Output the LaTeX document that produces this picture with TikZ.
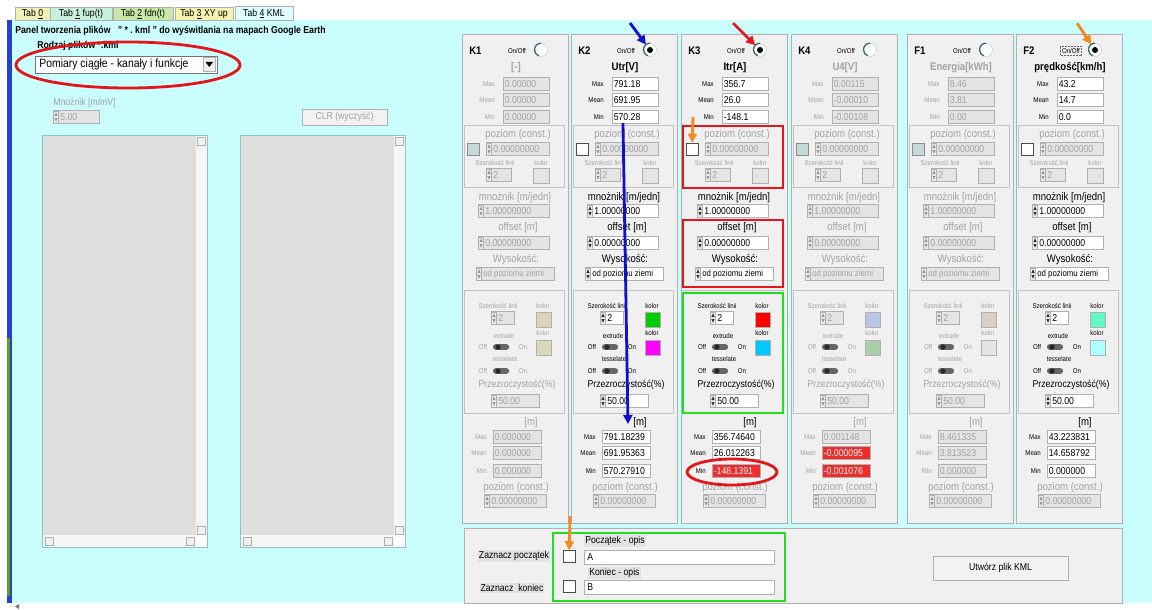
\documentclass[tikz,border=0pt]{standalone}
\usepackage{fontspec}
\setmainfont[FakeStretch=0.87]{Liberation Sans}
\usetikzlibrary{arrows.meta}

\definecolor{cbg}{HTML}{CAFDFD}
\definecolor{cpanel}{HTML}{F0F0F0}
\definecolor{cedge}{HTML}{B0B0B0}
\definecolor{cframe}{HTML}{C4C4C4}
\definecolor{cfieldoff}{HTML}{E4E4E4}
\definecolor{cgreytxt}{HTML}{A2A2A2}
\definecolor{ccheckoff}{HTML}{C4D8D8}
\definecolor{cradio}{HTML}{3C6A6A}
\definecolor{cspin}{HTML}{ECECEC}
\definecolor{calarm}{HTML}{EE2C2C}
\definecolor{cplate}{HTML}{E2E2E2}
\definecolor{cbutton}{HTML}{F2F2F2}
\definecolor{clist}{HTML}{DEDEDE}
\definecolor{clistedge}{HTML}{8CC4C4}
\definecolor{cscroll}{HTML}{F6F6F6}
\definecolor{cstripe}{HTML}{2244CC}
\definecolor{cstripegreen}{HTML}{5E9A2E}
\definecolor{ctab0}{HTML}{F2EEB8}
\definecolor{ctab1}{HTML}{C6F0DC}
\definecolor{ctab2}{HTML}{C8E8A6}
\definecolor{ctab3}{HTML}{F8F2B0}
\definecolor{ctab4}{HTML}{DCFEFE}
\definecolor{hred}{HTML}{E3161C}
\definecolor{hgreen}{HTML}{22DD22}
\definecolor{hblue}{HTML}{1010CC}
\definecolor{horange}{HTML}{F7881E}
% line / extrude colours per channel
\definecolor{swK1a}{HTML}{D6D4B6}
\definecolor{swK1b}{HTML}{DAD9BC}
\definecolor{swK2a}{HTML}{00CC00}
\definecolor{swK2b}{HTML}{FF00FF}
\definecolor{swK3a}{HTML}{FF0000}
\definecolor{swK3b}{HTML}{00C8FF}
\definecolor{swK4a}{HTML}{B6C6E4}
\definecolor{swK4b}{HTML}{AACDAA}
\definecolor{swF1a}{HTML}{D9D1C2}
\definecolor{swF1b}{HTML}{E4E4E4}
\definecolor{swF2a}{HTML}{62F8C4}
\definecolor{swF2b}{HTML}{AEFFFF}

\newcommand\ftiny{\fontsize{7}{8}\selectfont}
\newcommand\fmid{\fontsize{9}{10}\selectfont}
\newcommand\fsmall{\fontsize{10}{11}\selectfont}
\newcommand\fnorm{\fontsize{10}{11}\selectfont}
\newcommand\fbig{\fontsize{11}{12}\selectfont}
\newcommand\fcombo{\fontsize{12}{13}\selectfont}

\tikzset{
  every picture/.style={line width=0.6pt},
  colpanel/.style={fill=cpanel, draw=cedge},
  groupframe/.style={draw=cframe},
  head/.style={font=\fbig\bfseries, anchor=west, inner sep=0pt},
  minor/.style={font=\ftiny, inner sep=0pt},
  txt on/.style={text=black},
  txt off/.style={text=cgreytxt},
  lbl on/.style={font=\fbig, inner sep=0pt, text=black},
  lbl off/.style={font=\fbig, inner sep=0pt, text=cgreytxt},
  field on/.style={fill=white, draw=cedge},
  field off/.style={fill=cfieldoff, draw=cedge},
  field alarm/.style={fill=calarm, draw=cedge},
  fieldtxt on/.style={font=\fnorm, inner sep=0pt, text=black},
  fieldtxt off/.style={font=\fnorm, inner sep=0pt, text=cgreytxt},
  fieldtxt alarm/.style={font=\fnorm, inner sep=0pt, text=white},
  radio/.style={circle, fill=white, draw=cradio!30, minimum size=13pt, inner sep=0pt},
  radiodot on/.style={fill=black},
  radiodot off/.style={},
  chk on/.style={fill=white, draw=black!70, minimum size=12pt, inner sep=0pt},
  chk off/.style={fill=ccheckoff, draw=black!45, minimum size=12pt, inner sep=0pt},
  swatch/.style={draw=cedge},
  tab/.style={draw=cedge, minimum height=13pt, inner sep=0pt, font=\fsmall},
  button/.style={draw=cedge, fill=cbutton, font=\fsmall, inner sep=0pt},
  plate/.style={fill=cplate, font=\fnorm, inner sep=1pt},
  hilite/.style={draw=#1, line width=2.8pt},
  hilite arrow/.style={draw=#1, line width=2.8pt, -{Triangle[length=9pt, width=9pt]}},
  spin on/.style={fill=black!80},
  spin off/.style={fill=black!40},
  pics/updown/.style={code={
    \draw[fill=cspin, draw=cedge] (0,-6) rectangle (5,6);
    \fill[spin #1] (0.8,-1) -- (4.2,-1) -- (2.5,-4.6) -- cycle;
    \fill[spin #1] (0.8,1) -- (4.2,1) -- (2.5,4.6) -- cycle;}},
  pics/toggle/.style={code={
    \fill[black!60, rounded corners=2.5pt] (0,-2.8) rectangle (16,2.8);
    \fill[black!85] (5,0) circle (2.6);}},
}

% plain value field: left x, width, mid y, state, text
\newcommand{\valbox}[5]{%
  \draw[field #4] (#1,#3-6.5) rectangle ++(#2,13);
  \node[fieldtxt #4, anchor=west] at (#1+1.5,#3) {#5};}

% field with up/down arrows: left x, width, mid y, state, text
\newcommand{\spinbox}[5]{%
  \draw[field #4] (#1,#3-6.5) rectangle ++(#2,13);
  \pic at (#1+0.5,#3) {updown=#4};
  \node[fieldtxt #4, anchor=west] at (#1+7,#3) {#5};}

% one channel: x, id, unit, state, max, mean, min, line colour, extrude colour
\newcommand{\kmlcolumn}[9]{%
\begin{scope}[shift={(#1,0)}]
  \draw[colpanel] (-1,34) rectangle (105,523);
  \node[head] (#2-id) at (6,51) {#2};
  \node[minor] (#2-onoff) at (54,51) {On/Off};
  \node[radio] (#2-radio) at (78,50) {};
  \draw[cradio, line width=1.3pt] (#2-radio.north) arc[start angle=90, end angle=250, radius=6.5pt];
  \path[radiodot #4] (#2-radio.center) circle (3);
  \node[head, anchor=center, txt #4] (#2-unit) at (53,68) {#3};
  \node[minor, anchor=east, txt #4] at (32,84) {Max};
  \valbox{40}{46}{84}{#4}{#5}
  \node[minor, anchor=east, txt #4] at (32,100) {Mean};
  \valbox{40}{46}{100}{#4}{#6}
  \node[minor, anchor=east, txt #4] at (32,117) {Min};
  \valbox{40}{46}{117}{#4}{#7}
  % constant level (disabled)
  \draw[groupframe] (1,125) rectangle (101,187);
  \node[lbl off] at (55,135) {poziom (const.)};
  \node[chk #4] (#2-check) at (10,149) {};
  \spinbox{23}{63}{149}{off}{0.00000000}
  \node[minor, txt off] at (32,163) {Szerokość linii};
  \node[minor, txt off] at (78,163) {kolor};
  \spinbox{23}{25}{175}{off}{2}
  \draw[field off] (70,168) rectangle (86,183);
  % scale and height
  \node[lbl #4] at (52,198) {mnożnik [m/jedn]};
  \spinbox{15}{71}{211}{#4}{1.00000000}
  \node[lbl #4] at (55,228) {offset [m]};
  \spinbox{15}{71}{243}{#4}{0.00000000}
  \node[lbl #4] at (53,260) {Wysokość:};
  \spinbox{13}{78}{274}{#4}{\fmid od poziomu ziemi}
  % line look
  \draw[groupframe] (1,290) rectangle (101,413);
  \node[minor, txt #4] at (35,306) {Szerokość linii};
  \node[minor, txt #4] at (80,306) {kolor};
  \spinbox{28}{23}{318}{#4}{2}
  \draw[swatch, fill=#8] (73,312) rectangle (88,327);
  \node[minor, txt #4] at (41,336) {extrude};
  \node[minor, txt #4] at (80,333) {kolor};
  \draw[swatch, fill=#9] (73,340) rectangle (88,355);
  \node[minor, txt #4] at (20,347) {Off};
  \pic at (30,347) {toggle};
  \node[minor, txt #4] at (60,347) {On};
  \node[minor, txt #4] at (42,359) {tesselate};
  \node[minor, txt #4] at (20,371) {Off};
  \pic at (30,371) {toggle};
  \node[minor, txt #4] at (60,371) {On};
  \node[lbl #4, font=\fsmall] at (54,385) {Przezroczystość(\%)};
  \spinbox{28}{48}{401}{#4}{50.00}
\end{scope}}

% results in metres: x, state, max, mean, min, mean state, min state
\newcommand{\kmlsummary}[7]{%
\begin{scope}[shift={(#1,0)}]
  \node[lbl #2] at (68,423) {[m]};
  \node[minor, anchor=east, txt #2] at (24,437) {Max};
  \valbox{30}{48}{437}{#2}{#3}
  \node[minor, anchor=east, txt #2] at (24,453) {Mean};
  \valbox{30}{48}{453}{#6}{#4}
  \node[minor, anchor=east, txt #2] at (24,471) {Min};
  \valbox{30}{48}{471}{#7}{#5}
  \node[lbl off] at (53,488) {poziom (const.)};
  \spinbox{21}{62}{501}{off}{0.00000000}
\end{scope}}

\begin{document}
\begin{tikzpicture}[x=1pt, y=-1pt]
  \useasboundingbox (0,0) rectangle (1152,610);
  \fill[white] (0,0) rectangle (1152,610);
  \fill[cbg] (12,20) rectangle (1152,603);
  \fill[cstripe] (7,20) rectangle (12,603);
  \fill[cstripegreen] (7,338) rectangle (9.5,596);
  \fill[black!55] (15,606.5) -- (19,604) -- (19,609) -- cycle;

  % tabs
  \node[tab, fill=ctab0, minimum width=35pt] (tab0) at (32.5,14) {Tab \underline{0}};
  \node[tab, fill=ctab1, minimum width=62pt] (tab1) at (81,14) {Tab \underline{1} fup(t)};
  \node[tab, fill=ctab2, minimum width=60pt] (tab2) at (143,14) {Tab \underline{2} fdn(t)};
  \node[tab, fill=ctab3, minimum width=58pt] (tab3) at (204,14) {Tab \underline{3} XY up};
  \node[tab, fill=ctab4, minimum width=58pt, minimum height=14pt] (tab4) at (264,13.5) {Tab \underline{4} KML};

  \node[anchor=west, font=\fsmall\bfseries, inner sep=0pt] (title) at (15,31)
    {Panel tworzenia plików~~ "~*~.~kml~"~do wyświtlania na mapach Google Earth};
  \node[anchor=west, font=\fsmall\bfseries, inner sep=0pt] (kind-title) at (37,46) {Rodzaj plików *.kml};
  \draw[fill=white, draw=black!55] (35,56) rectangle (217,73);
  \node[anchor=west, font=\fcombo, inner sep=0pt] (kind) at (39,64.5) {Pomiary ciągłe - kanały i funkcje};
  \draw[fill=cpanel, draw=cedge] (203,57.5) rectangle (215.5,71.5);
  \fill (205.5,62) -- (213,62) -- (209.25,67) -- cycle;

  \node[anchor=west, font=\fsmall, inner sep=0pt, text=cgreytxt] (gain-title) at (53,103) {Mnożnik [m/mV]};
  \spinbox{53}{46}{117}{off}{5.00}
  \node[button, text=cgreytxt, minimum width=85pt, minimum height=16pt] (clr) at (344.5,117) {CLR (wyczyść)};

  % list boxes
  \foreach \lx in {42,240} {
    \draw[fill=clist, draw=clistedge] (\lx,135) rectangle ++(165,412);
    \fill[cscroll] (\lx+154,135.5) rectangle (\lx+164.5,546.5);
    \fill[cscroll] (\lx+0.5,535) rectangle (\lx+154,546.5);
    \fill[white] (\lx+154,535) rectangle (\lx+164.5,546.5);
    \draw[fill=cpanel, draw=cedge] (\lx+155,137) rectangle ++(8,8);
    \draw[fill=cpanel, draw=cedge] (\lx+155,526) rectangle ++(8,8);
    \draw[fill=cpanel, draw=cedge] (\lx+3,537) rectangle ++(8,8);
    \draw[fill=cpanel, draw=cedge] (\lx+144,537) rectangle ++(8,8);
  }

  % channel columns
  \kmlcolumn{463}{K1}{[-]}{off}{0.00000}{0.00000}{0.00000}{swK1a}{swK1b}
  \kmlsummary{463}{off}{0.000000}{0.000000}{0.000000}{off}{off}
  \kmlcolumn{572}{K2}{Utr[V]}{on}{791.18}{691.95}{570.28}{swK2a}{swK2b}
  \kmlsummary{572}{on}{791.18239}{691.95363}{570.27910}{on}{on}
  \kmlcolumn{682}{K3}{Itr[A]}{on}{356.7}{26.0}{-148.1}{swK3a}{swK3b}
  \kmlsummary{682}{on}{356.74640}{26.012263}{-148.1391}{on}{alarm}
  \kmlcolumn{792}{K4}{U4[V]}{off}{0.00115}{-0.00010}{-0.00108}{swK4a}{swK4b}
  \kmlsummary{792}{off}{0.001148}{-0.000095}{-0.001076}{alarm}{alarm}
  \kmlcolumn{908}{F1}{Energia[kWh]}{off}{8.46}{3.81}{0.00}{swF1a}{swF1b}
  \kmlsummary{908}{off}{8.461335}{3.813523}{0.000000}{off}{off}
  \kmlcolumn{1017}{F2}{prędkość[km/h]}{on}{43.2}{14.7}{0.0}{swF2a}{swF2b}
  \kmlsummary{1017}{on}{43.223831}{14.658792}{0.000000}{on}{on}
  \draw[densely dotted, black!60, line width=0.5pt]
    ([shift={(-1.5,-1.5)}]F2-onoff.north west) rectangle ([shift={(1.5,1.5)}]F2-onoff.south east);

  % start / end markers
  \draw[colpanel] (464,528) rectangle (1122,603);
  \node[plate] (begin-lbl) at (514,556) {Zaznacz początek};
  \node[plate] (end-lbl) at (512,588) {Zaznacz~ koniec};
  \node[chk on] (begin-check) at (569,556.5) {};
  \node[chk on] (end-check) at (569,586.5) {};
  \node[plate, anchor=west] (begin-note) at (584,541) {Początek - opis};
  \draw[field on] (584,550) rectangle (774,564);
  \node[fieldtxt on, anchor=west] (begin-text) at (587,557) {A};
  \node[plate, anchor=west] (end-note) at (588,573) {Koniec - opis};
  \draw[field on] (584,580) rectangle (774,594);
  \node[fieldtxt on, anchor=west] (end-text) at (587,587) {B};
  \node[button, minimum width=135pt, minimum height=24pt] (make-kml) at (1000.5,568) {Utwórz plik KML};

  % highlights
  \draw[hilite=hred] (128,65) ellipse [x radius=112, y radius=23];
  \draw[hilite=hred] (683,126) rectangle (783,188);
  \draw[hilite=hred] (683,220) rectangle (783,287);
  \draw[hilite=hgreen] (683,293) rectangle (783,413);
  \draw[hilite=hred] (732,472) ellipse [x radius=45, y radius=13];
  \draw[hilite=hgreen] (553,533) rectangle (785,601);

  \coordinate (blue-tail) at (630,23);
  \coordinate (blue-top) at (623,123);
  \coordinate (blue-end) at (628,424);
  \coordinate (red-tail) at (733,23);
  \coordinate (orange-tail) at (1077,23);
  \coordinate (orange-k3) at (693,117);
  \coordinate (orange-start) at (570,516);
  \draw[hilite arrow=hblue] (blue-tail) -- (K2-radio);
  \draw[hilite arrow=hblue] (blue-top) -- (blue-end);
  \draw[hilite arrow=hred] (red-tail) -- (K3-radio);
  \draw[hilite arrow=horange] (orange-tail) -- (F2-radio);
  \draw[hilite arrow=horange] (orange-k3) -- (K3-check);
  \draw[hilite arrow=horange] (orange-start) -- (begin-check);
\end{tikzpicture}
\end{document}
